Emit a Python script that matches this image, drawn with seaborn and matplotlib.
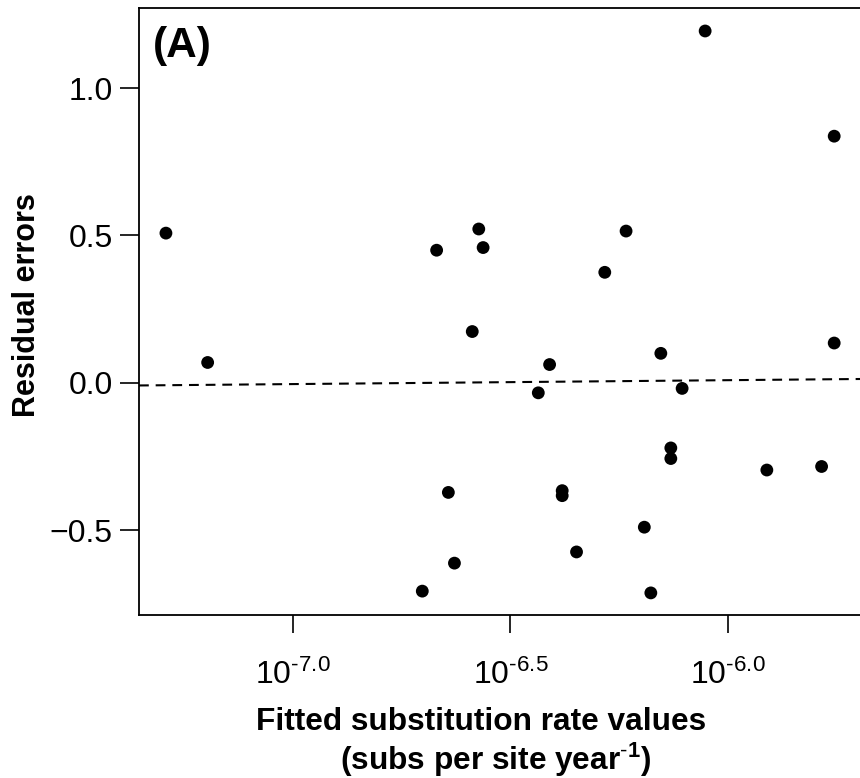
import numpy as np
import pandas as pd
import matplotlib
matplotlib.use("Agg")
import matplotlib.pyplot as plt
import seaborn as sns

# log10 of fitted substitution rate (subs per site per year) and residuals
fitted_log10 = [-7.293, -7.197, -6.703, -6.670, -6.052, -5.755, -6.573, -6.563,
                -6.234, -6.283, -6.588, -6.154, -5.755, -6.410, -6.436, -6.105,
                -6.131, -6.131, -5.910, -5.784, -6.643, -6.381, -6.381, -6.192,
                -6.348, -6.629, -6.177]
residuals = [0.508, 0.069, -0.707, 0.450, 1.194, 0.837, 0.522, 0.459,
             0.515, 0.375, 0.174, 0.100, 0.135, 0.062, -0.034, -0.019,
             -0.221, -0.257, -0.296, -0.284, -0.372, -0.366, -0.383, -0.490,
             -0.574, -0.612, -0.713]

# dashed trend line across the panel
trend_x = [-7.355, -5.691]
trend_y = [-0.009, 0.013]

x_ticks = [-7.0, -6.5, -6.0]
x_ticklabels = [r"$10^{\text{-7.0}}$", r"$10^{\text{-6.5}}$", r"$10^{\text{-6.0}}$"]
y_ticks = [-0.5, 0.0, 0.5, 1.0]
y_ticklabels = ["\u22120.5", "0.0", "0.5", "1.0"]

df = pd.DataFrame({"fitted": fitted_log10, "resid": residuals})

sns.set_theme(style="ticks")
plt.rcParams["font.family"] = ["Liberation Sans", "DejaVu Sans"]
plt.rcParams["mathtext.fontset"] = "custom"
plt.rcParams["mathtext.rm"] = "Liberation Sans"
plt.rcParams["mathtext.bf"] = "Liberation Sans:bold"
plt.rcParams["mathtext.it"] = "Liberation Sans:italic"
for key in ["text.color", "axes.labelcolor", "xtick.color", "ytick.color",
            "axes.edgecolor"]:
    plt.rcParams[key] = "black"

fig = plt.figure(figsize=(8.6, 7.78), dpi=100)
ax = fig.add_axes([139 / 860, 163 / 778, (862 - 139) / 860, (615 - 8.3) / 778])

ax.plot(trend_x, trend_y, color="black", lw=1.5, ls=(0, (4.7, 3.3)), zorder=1)
sns.scatterplot(data=df, x="fitted", y="resid", color="black", s=85,
                edgecolor="none", ax=ax, zorder=2)

ax.set_xlim(-7.355, -5.691)
ax.set_ylim(-0.788, 1.271)

ax.set_xticks(x_ticks)
ax.set_xticklabels(x_ticklabels)
ax.set_yticks(y_ticks)
ax.set_yticklabels(y_ticklabels)
ax.tick_params(axis="x", length=13, width=1.2, pad=19, labelsize=23, color="black")
ax.tick_params(axis="y", length=14, width=1.2, pad=5, labelsize=23, color="black")

for side in ["left", "bottom", "top", "right"]:
    ax.spines[side].set_visible(True)
    ax.spines[side].set_linewidth(1.3)
    ax.spines[side].set_color("black")

ax.set_xlabel("")
ax.set_ylabel("Residual errors", fontsize=22, fontweight="bold")
ax.yaxis.set_label_coords(-0.134, 0.511)

fig.text(481 / 860, 1 - 730 / 778, "Fitted substitution rate values",
         ha="center", va="baseline", fontsize=22.8, fontweight="bold")
fig.text(496 / 860, 1 - 770 / 778, r"(subs per site year$^{\text{-}\mathbf{1}}$)",
         ha="center", va="baseline", fontsize=22.8, fontweight="bold")

ax.text(0.019, 0.971, "(A)", transform=ax.transAxes, ha="left", va="top",
        fontsize=30.5, fontweight="bold")

fig.savefig("out.png", dpi=100)
